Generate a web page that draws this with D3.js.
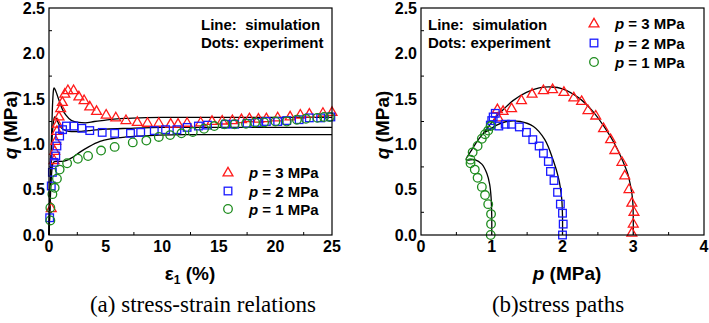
<!DOCTYPE html>
<html>
<head>
<meta charset="utf-8">
<script src="https://cdn.jsdelivr.net/npm/d3@7"></script>
<style>
  body { margin: 0; background: #fff; }
  text { font-family: "Liberation Sans", Arial, sans-serif; font-weight: bold; white-space: pre; }
  .cap { font-family: "Liberation Serif", "Times New Roman", serif; font-weight: normal; }
</style>
</head>
<body>
<svg id="chart" width="709" height="323"></svg>
<script>
// ---- data: (a) stress-strain, experiment ----
const eps3 = [0.2, 0.45, 0.5, 0.6, 0.7, 0.75, 0.88, 1.03, 1.18, 1.4, 1.67, 2.17, 2.64, 3.1, 3.6, 4.2, 5.05, 5.9, 6.8, 7.8, 8.7, 9.7, 10.75, 11.4, 12.2, 13.4, 14.4, 15.3, 16.2, 17.0, 17.7, 18.5, 19.2, 20.2, 21.3, 22.2, 23.0, 24.2, 25.0];
const qEps3 = [0.30, 0.83, 0.93, 1.04, 1.15, 1.23, 1.31, 1.40, 1.47, 1.56, 1.60, 1.60, 1.53, 1.49, 1.42, 1.37, 1.33, 1.30, 1.27, 1.25, 1.24, 1.24, 1.23, 1.23, 1.24, 1.245, 1.26, 1.265, 1.27, 1.28, 1.29, 1.285, 1.29, 1.30, 1.31, 1.33, 1.34, 1.35, 1.36];
const eps2 = [0.06, 0.2, 0.3, 0.45, 0.6, 0.7, 0.94, 1.2, 1.54, 2.2, 2.9, 3.6, 4.7, 5.8, 7.2, 8.1, 9.3, 10.3, 11.3, 12.2, 13.2, 14.0, 15.6, 16.4, 17.5, 18.4, 19.2, 20.2, 21.0, 22.1, 23.0, 24.0, 24.9];
const qEps2 = [0.19, 0.54, 0.69, 0.80, 0.87, 0.98, 1.09, 1.16, 1.20, 1.20, 1.175, 1.15, 1.13, 1.12, 1.12, 1.13, 1.15, 1.16, 1.16, 1.185, 1.20, 1.21, 1.22, 1.22, 1.23, 1.24, 1.25, 1.25, 1.26, 1.27, 1.29, 1.29, 1.30];
const eps1 = [0.12, 0.12, 0.3, 0.5, 0.7, 0.94, 1.6, 2.55, 3.45, 4.6, 5.8, 7.4, 8.6, 9.7, 10.7, 11.7, 12.7, 13.7, 14.6, 15.5, 16.4, 17.4, 18.2, 19.0, 20.0, 21.0, 21.9, 22.7, 23.7, 24.3, 24.8];
const qEps1 = [0.16, 0.30, 0.45, 0.52, 0.62, 0.72, 0.79, 0.84, 0.87, 0.93, 0.97, 1.02, 1.04, 1.08, 1.10, 1.12, 1.135, 1.17, 1.20, 1.22, 1.22, 1.225, 1.24, 1.24, 1.25, 1.25, 1.27, 1.28, 1.29, 1.30, 1.30];

// ---- data: (a) stress-strain, simulation ----
const simEps3 = [0, 0.1, 0.2, 0.3, 0.4, 0.45, 0.55, 0.7, 0.95, 1.2, 1.5, 2.0, 2.6, 3.2, 4, 5, 6, 7, 8, 10, 25];
const simQEps3 = [0, 0.5, 1.0, 1.4, 1.6, 1.62, 1.6, 1.55, 1.46, 1.38, 1.32, 1.26, 1.24, 1.235, 1.25, 1.265, 1.28, 1.285, 1.29, 1.295, 1.295];
const simEps2 = [0, 0.1, 0.2, 0.3, 0.4, 0.5, 0.6, 0.8, 1.0, 1.5, 2.0, 2.6, 3.5, 5, 7, 10, 25];
const simQEps2 = [0, 0.45, 0.85, 1.12, 1.25, 1.30, 1.29, 1.24, 1.19, 1.15, 1.14, 1.14, 1.15, 1.165, 1.175, 1.185, 1.185];
const simEps1 = [0, 0.1, 0.2, 0.3, 0.4, 0.6, 1.0, 1.5, 2.0, 2.7, 3.5, 4.5, 5.5, 6.8, 8, 9.7, 12, 25];
const simQEps1 = [0, 0.35, 0.62, 0.76, 0.80, 0.81, 0.81, 0.82, 0.85, 0.91, 0.97, 1.03, 1.06, 1.08, 1.09, 1.10, 1.105, 1.105];

// ---- data: (b) stress paths, experiment ----
const p3 = [2.98, 3.0, 3.01, 2.98, 2.94, 2.88, 2.84, 2.74, 2.68, 2.58, 2.47, 2.36, 2.27, 2.16, 2.02, 1.86, 1.73, 1.57, 1.42, 1.28, 1.16, 1.08, 1.09];
const qP3 = [0.03, 0.13, 0.26, 0.36, 0.51, 0.66, 0.81, 0.94, 1.06, 1.18, 1.32, 1.38, 1.48, 1.52, 1.58, 1.61, 1.60, 1.56, 1.49, 1.40, 1.37, 1.39, 1.30];
const p2 = [2.0, 2.01, 2.0, 1.97, 1.93, 1.88, 1.83, 1.80, 1.73, 1.67, 1.58, 1.49, 1.39, 1.28, 1.19, 1.10, 0.98, 1.0, 1.02, 1.05];
const qP2 = [0.0, 0.12, 0.24, 0.34, 0.47, 0.60, 0.70, 0.81, 0.90, 0.98, 1.05, 1.13, 1.19, 1.22, 1.22, 1.20, 1.21, 1.26, 1.30, 1.34];
const p1 = [0.985, 0.99, 0.99, 0.95, 0.905, 0.86, 0.80, 0.76, 0.70, 0.70, 0.73, 0.80, 0.86, 0.905, 0.95, 0.985];
const qP1 = [0.0, 0.12, 0.23, 0.34, 0.44, 0.53, 0.63, 0.72, 0.79, 0.83, 0.91, 0.98, 1.06, 1.11, 1.15, 1.20];

// ---- data: (b) stress paths, simulation ----
const simP3 = [3.0, 3.0, 2.99, 2.96, 2.92, 2.86, 2.74, 2.6, 2.42, 2.23, 2.0, 1.84, 1.67, 1.49, 1.30, 1.16, 1.07, 1.0, 0.93, 0.88];
const simQP3 = [0, 0.2, 0.4, 0.55, 0.68, 0.80, 1.0, 1.18, 1.37, 1.51, 1.61, 1.63, 1.62, 1.57, 1.48, 1.38, 1.31, 1.24, 1.17, 1.12];
const simP2 = [2.0, 2.0, 1.99, 1.97, 1.94, 1.87, 1.75, 1.59, 1.40, 1.21, 1.07, 0.97, 0.88];
const simQP2 = [0, 0.2, 0.39, 0.52, 0.64, 0.82, 1.05, 1.195, 1.25, 1.25, 1.21, 1.16, 1.12];
const simP1 = [1.0, 1.0, 0.99, 0.97, 0.93, 0.86, 0.76, 0.64, 0.72, 0.81, 0.905, 0.95];
const simQP1 = [0, 0.2, 0.42, 0.56, 0.68, 0.78, 0.83, 0.83, 0.94, 1.05, 1.14, 1.18];

const qTicks = [0, 0.5, 1.0, 1.5, 2.0, 2.5];
const epsTicks = [0, 5, 10, 15, 20, 25];
const pTicks = [0, 1, 2, 3, 4];
const legendLabels = ["3", "2", "1"];

const red = "#ff1a1a", blue = "#1a1aff", green = "#1e8c1e";
const zip = (xs, ys) => xs.map((x, i) => [x, ys[i]]);

const svg = d3.select("#chart");
svg.append("rect").attr("width", 709).attr("height", 323).attr("fill", "#fff");

function marker(g, type, color, x, y) {
    if (type === "tri") {
        g.append("path").attr("d", d3.symbol(d3.symbolTriangle, 42)())
            .attr("transform", `translate(${x},${y + 1})`);
    } else if (type === "sq") {
        g.append("rect").attr("x", x - 3.8).attr("y", y - 3.8).attr("width", 7.6).attr("height", 7.6);
    } else {
        g.append("circle").attr("cx", x).attr("cy", y).attr("r", 4.3);
    }
    g.selectAll(":last-child").attr("fill", "none").attr("stroke", color).attr("stroke-width", 1.3);
}

function drawPanel(opt) {
    const x = d3.scaleLinear().domain(opt.xDomain).range([opt.left, opt.right]);
    const y = d3.scaleLinear().domain([0, 2.5]).range([235, 8]);
    const g = svg.append("g");

    // minor ticks (inside)
    const xMinor = opt.xTicks.slice(1).map((t, i) => (t + opt.xTicks[i]) / 2);
    const yMinor = qTicks.slice(1).map((t, i) => (t + qTicks[i]) / 2);
    g.selectAll(".xm").data(xMinor).join("line")
        .attr("x1", d => x(d)).attr("x2", d => x(d)).attr("y1", 235).attr("y2", 232)
        .attr("stroke", "#000").attr("stroke-width", 1);
    g.selectAll(".ym").data(yMinor).join("line")
        .attr("y1", d => y(d)).attr("y2", d => y(d)).attr("x1", opt.left).attr("x2", opt.left + 3)
        .attr("stroke", "#000").attr("stroke-width", 1);

    // tick labels
    g.selectAll(".yl").data(qTicks).join("text")
        .attr("x", opt.left - 4).attr("y", d => y(d)).attr("dy", "0.36em")
        .attr("text-anchor", "end").attr("font-size", 16)
        .text(d => d.toFixed(1));
    g.selectAll(".xl").data(opt.xTicks).join("text")
        .attr("x", d => x(d)).attr("y", 252)
        .attr("text-anchor", "middle").attr("font-size", 16)
        .text(d => d);

    // simulation lines
    const line = d3.line().x(d => x(d[0])).y(d => y(d[1])).curve(opt.curve);
    opt.sims.forEach(s => {
        g.append("path").attr("d", line(s)).attr("fill", "none")
            .attr("stroke", "#000").attr("stroke-width", 1.3);
    });

    // experiment markers
    opt.exps.forEach(e => {
        const mg = g.append("g");
        e.pts.forEach(d => marker(mg, e.type, e.color, x(d[0]), y(d[1])));
    });

    // frame
    g.append("rect").attr("x", opt.left).attr("y", 8)
        .attr("width", opt.right - opt.left).attr("height", 227)
        .attr("fill", "none").attr("stroke", "#000").attr("stroke-width", 1.2);

    // y title
    const yt = g.append("text")
        .attr("transform", `translate(${opt.left - 32},125) rotate(-90)`)
        .attr("text-anchor", "middle").attr("font-size", 19);
    yt.append("tspan").attr("font-style", "italic").text("q");
    yt.append("tspan").text(" (MPa)");

    // note text
    g.append("text").attr("x", opt.noteX).attr("y", 30).attr("font-size", 15).text("Line:  simulation");
    g.append("text").attr("x", opt.noteX).attr("y", 48).attr("font-size", 15).text("Dots: experiment");

    // legend
    opt.exps.forEach((e, i) => {
        const ly = opt.legY[i];
        marker(g.append("g"), e.type, e.color, opt.legX, ly);
        const t = g.append("text").attr("x", opt.legX + 21).attr("y", ly + 5.5).attr("font-size", 15);
        t.append("tspan").attr("font-style", "italic").text("p");
        t.append("tspan").text(` = ${legendLabels[i]} MPa`);
    });
    return g;
}

const gA = drawPanel({
    left: 49, right: 332, xDomain: [0, 25], xTicks: epsTicks,
    curve: d3.curveMonotoneX,
    sims: [zip(simEps3, simQEps3), zip(simEps2, simQEps2), zip(simEps1, simQEps1)],
    exps: [
        { type: "tri", color: red, pts: zip(eps3, qEps3) },
        { type: "sq", color: blue, pts: zip(eps2, qEps2) },
        { type: "circ", color: green, pts: zip(eps1, qEps1) }
    ],
    noteX: 201, legX: 228, legY: [172, 191, 209]
});
const xt = gA.append("text").attr("x", 190).attr("y", 280).attr("text-anchor", "middle").attr("font-size", 19);
xt.append("tspan").text("ε");
xt.append("tspan").attr("font-size", 12).attr("dy", 4).text("1");
xt.append("tspan").attr("dy", -4).text(" (%)");

const gB = drawPanel({
    left: 421, right: 704, xDomain: [0, 4], xTicks: pTicks,
    curve: d3.curveCatmullRom.alpha(0.5),
    sims: [zip(simP3, simQP3), zip(simP2, simQP2), zip(simP1, simQP1)],
    exps: [
        { type: "tri", color: red, pts: zip(p3, qP3) },
        { type: "sq", color: blue, pts: zip(p2, qP2) },
        { type: "circ", color: green, pts: zip(p1, qP1) }
    ],
    noteX: 428, legX: 594, legY: [23, 43, 62]
});
const pt = gB.append("text").attr("x", 567).attr("y", 280).attr("text-anchor", "middle").attr("font-size", 19);
pt.append("tspan").attr("font-style", "italic").text("p");
pt.append("tspan").text(" (MPa)");

// captions
svg.append("text").attr("class", "cap").attr("x", 203).attr("y", 312)
    .attr("text-anchor", "middle").attr("font-size", 23).text("(a) stress-strain relations");
svg.append("text").attr("class", "cap").attr("x", 558).attr("y", 312)
    .attr("text-anchor", "middle").attr("font-size", 23).text("(b)stress paths");
</script>
</body>
</html>
